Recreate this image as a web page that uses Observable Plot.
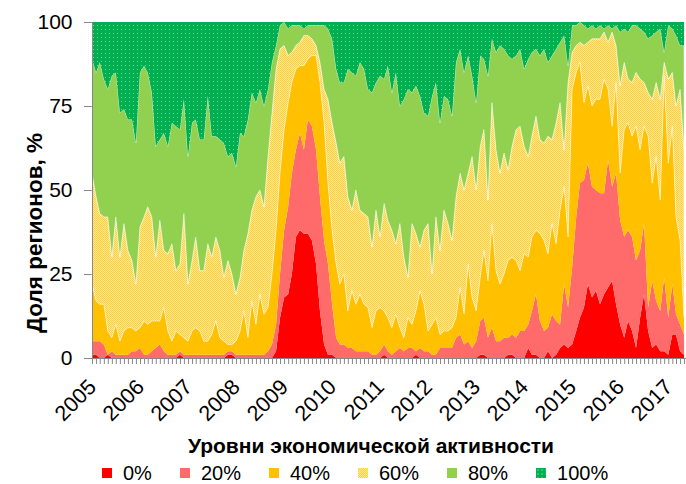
<!DOCTYPE html>
<html><head><meta charset="utf-8">
<script src="https://cdn.jsdelivr.net/npm/d3@7"></script>
<script src="https://cdn.jsdelivr.net/npm/@observablehq/plot@0.6"></script>
<style>
body{margin:0;background:#fff;font-family:"Liberation Sans",Arial,sans-serif;color:#000;}
#wrap{position:relative;width:686px;height:484px;overflow:hidden;}
#wrap svg{display:block;}
svg [aria-label^="x-axis"] line, svg [aria-label^="x-axis"] path,
svg [aria-label^="y-axis"] line, svg [aria-label^="y-axis"] path{stroke:#888;}
svg [aria-label^="y-axis"] text{font-size:21px;}
svg [aria-label^="x-axis"] text{font-size:21.5px;}
#ltitle{position:absolute;left:0;width:742px;top:434px;text-align:center;font-weight:bold;font-size:21px;line-height:24px;}
#litems{position:absolute;left:102px;top:461px;display:flex;gap:28px;font-size:20px;line-height:24px;}
.li{display:flex;align-items:center;}
.sw{width:10px;height:10px;margin-right:11px;}
</style></head>
<body><div id="wrap"></div>
<script>
const levels = ["0%","20%","40%","60%","80%","100%"];
const startYear = 2005;
const yTicks = [0,25,50,75,100];
const yTitle = "Доля регионов, %";
const legendTitle = "Уровни экономической активности";
// monthly shares of regions (%), Jan 2005 onwards
const s0 = [1,1,0,0,1,0,0,0,0,0, 0,0,0,0,0,0,0,0,0,0, 0,0,1,0,0,0,0,0,0,0, 0,0,0,0,1,1,0,0,0,0,
 0,0,0,0,0,0,2,12,18,19, 25,36,38,37,37,35,28,14,4,1, 1,0,0,0,0,0,0,0,0,0, 0,0,0,1,0,0,0,0,0,0,
 0,1,0,0,0,0,0,0,0,0, 0,0,0,0,0,0,0,1,1,0, 0,0,0,0,1,1,0,0,0,3, 1,1,0,0,2,0,1,3,4,3,
 4,8,12,15,22,18,20,16,19,21, 23,16,10,6,11,8,3,12,19,8, 3,4,2,2,1,7,7,2,1];
const s1 = [4,4,5,4,0,2,1,1,1,1, 2,2,3,1,1,2,3,4,2,1, 1,1,1,1,1,1,1,1,1,1, 1,1,1,1,1,1,1,1,1,1,
 1,1,1,1,2,4,8,13,20,26, 30,26,29,25,34,34,34,34,31,27, 15,6,4,4,3,3,2,2,2,2, 1,1,2,3,2,1,2,3,2,3,
 3,1,3,2,2,1,1,3,3,3, 3,6,7,4,5,3,5,10,11,6, 9,5,5,6,5,6,6,8,8,7, 13,18,11,8,7,13,10,7,18,12,
 23,34,40,38,36,33,30,33,30,38, 28,39,31,30,27,28,26,20,21,7, 20,13,12,22,11,15,6,8,6];
const s2 = [17,12,11,12,7,4,9,4,7,8, 7,6,6,10,9,9,8,7,13,7, 4,7,5,5,4,7,8,7,4,4, 6,10,5,4,2,2,4,7,13,5,
 16,9,18,12,13,21,28,30,30,31, 27,24,20,25,18,21,28,34,35,24, 22,22,18,21,11,17,14,17,14,13, 8,13,13,10,10,8,11,6,4,9,
 7,12,17,14,6,9,11,4,5,5, 6,6,14,9,23,15,9,13,20,17, 31,21,17,19,23,23,23,18,23,20, 22,19,26,27,22,27,23,34,29,21,
 53,43,36,23,23,24,27,28,34,21, 18,27,14,32,32,30,40,30,29,51, 29,43,33,60,46,47,29,25,5];
const s3 = [33,31,27,26,34,24,32,25,32,23, 20,14,30,31,35,31,19,30,17,23, 29,18,21,37,17,21,27,18,21,29, 23,25,26,19,25,21,14,16,18,31,
 27,38,31,32,45,48,48,37,25,14, 9,7,7,9,7,5,3,6,10,25, 32,36,36,35,34,24,34,25,27,27, 24,30,21,32,29,29,21,31,24,12,
 30,23,13,22,32,15,30,25,36,32, 26,36,34,37,27,42,36,39,36,24, 36,36,33,36,27,33,39,43,32,30, 30,34,28,29,35,25,36,32,11,46,
 11,8,6,17,13,20,18,18,14,14, 28,11,26,20,13,16,16,21,13,13, 25,22,30,4,25,16,33,45,50];
const s4 = [34,37,45,41,38,54,43,43,34,39, 42,42,46,45,40,37,33,24,35,32, 36,43,40,34,38,41,35,39,39,44, 36,30,33,40,31,36,38,43,34,34,
 35,28,30,30,20,15,7,7,7,8, 8,6,5,2,3,4,6,11,19,21, 25,22,24,22,38,41,34,44,43,38, 46,38,48,37,46,41,51,35,47,56,
 39,44,45,35,32,53,40,38,34,37, 37,40,37,35,35,24,26,27,21,37, 19,29,38,31,34,26,22,23,23,29, 25,20,25,28,22,25,22,18,34,5,
 8,6,6,6,4,4,3,4,1,5, 1,6,16,10,14,17,14,15,15,16, 19,15,21,3,16,13,21,13,31];
const s5 = [11,15,12,17,20,16,15,27,26,29, 29,36,15,13,15,21,37,35,33,37, 30,31,32,23,40,30,29,35,35,22, 34,34,35,36,40,39,43,33,34,29,
 21,24,20,25,20,12,7,1,0,2, 1,1,1,2,1,1,1,1,1,2, 5,14,18,18,14,15,16,12,14,20, 21,18,16,17,13,21,15,25,23,20,
 21,19,22,27,28,22,18,30,22,23, 28,12,8,15,10,16,24,10,11,16, 5,9,7,8,10,11,10,8,14,11, 9,8,10,8,12,10,8,6,4,13,
 1,1,0,1,2,1,2,1,2,1, 2,1,3,2,3,1,1,2,3,5, 4,3,2,9,1,2,4,7,7];
const series = [s0,s1,s2,s3,s4,s5];
const fills = ["#FF0000","#FF6B6B","#FFC000","url(#p60)","#92D050","url(#p100)"];
const swatches = ["#FF0000","#FF6B6B","#FFC000",
  "repeating-conic-gradient(#FFCF3A 0 25%, #FFEA94 0 50%) 0 0/2px 2px",
  "#92D050","radial-gradient(circle, #6FD29A 0.6px, transparent 0.8px) 0 0/4px 4px, #00B050"];

const rows = [];
series.forEach((vals, k) => vals.forEach((v, i) => rows.push({date: new Date(Date.UTC(startYear, i, 1)), level: levels[k], value: v})));
const nMonths = s0.length;
const x0 = new Date(Date.UTC(startYear, 0, 1));
const x1 = new Date(Date.UTC(startYear, nMonths - 1, 16));
const monthTicks = d3.utcMonths(x0, x1);

const chart = Plot.plot({
  width: 686, height: 434,
  marginLeft: 92, marginRight: 0, marginTop: 22, marginBottom: 76,
  style: {fontFamily: "'Liberation Sans', Arial, sans-serif", fontSize: "21px", color: "#000", background: "#fff", overflow: "visible"},
  x: {type: "utc", domain: [x0, x1], ticks: monthTicks,
      tickFormat: d => d.getUTCMonth() === 0 ? String(d.getUTCFullYear()) : "",
      tickRotate: -45, tickSize: 6, tickPadding: 4, label: null},
  y: {domain: [0, 100], ticks: yTicks, tickSize: 8, tickPadding: 12, label: null},
  color: {domain: levels, range: fills},
  marks: [
    Plot.areaY(rows, {x: "date", y: "value", z: "level", fill: "level", order: levels}),
    Plot.ruleY([0], {stroke: "#888"}),
    Plot.ruleX([x0], {stroke: "#888"})
  ]
});

const svg = d3.select(chart.tagName.toLowerCase() === "svg" ? chart : chart.querySelector("svg"));
const defs = svg.insert("defs", ":first-child");
const p60 = defs.append("pattern").attr("id","p60").attr("width",2).attr("height",2).attr("patternUnits","userSpaceOnUse");
p60.append("rect").attr("width",2).attr("height",2).attr("fill","#FFEA94");
p60.append("rect").attr("width",1).attr("height",1).attr("fill","#FFCF3A");
p60.append("rect").attr("x",1).attr("y",1).attr("width",1).attr("height",1).attr("fill","#FFCF3A");
const p100 = defs.append("pattern").attr("id","p100").attr("width",4).attr("height",4).attr("patternUnits","userSpaceOnUse");
p100.append("rect").attr("width",4).attr("height",4).attr("fill","#00B050");
p100.append("rect").attr("x",1).attr("y",1).attr("width",1).attr("height",1).attr("fill","#6FD29A");
svg.selectAll('path[fill="url(#p60)"], path[fill="#92D050"]').attr("stroke","#fff").attr("stroke-width",0.6).attr("stroke-opacity",0.8);

// shift the rotated year labels a little lower, as in the reference
svg.selectAll('[aria-label^="x-axis"] text').each(function() {
  const t = d3.select(this);
  t.attr("transform", "translate(0,15) " + (t.attr("transform") || ""));
});

svg.append("text").attr("transform","translate(42,233) rotate(-90)").attr("text-anchor","middle")
  .attr("font-weight","bold").attr("font-size",22.5).attr("fill","#000").text(yTitle);

const wrap = document.getElementById("wrap");
wrap.appendChild(chart);
const lt = document.createElement("div"); lt.id = "ltitle"; lt.textContent = legendTitle; wrap.appendChild(lt);
const li = document.createElement("div"); li.id = "litems";
levels.forEach((l, k) => {
  const it = document.createElement("div"); it.className = "li";
  const sw = document.createElement("div"); sw.className = "sw"; sw.style.background = swatches[k];
  const tx = document.createElement("span"); tx.textContent = l;
  it.appendChild(sw); it.appendChild(tx); li.appendChild(it);
});
wrap.appendChild(li);
</script></body></html>
